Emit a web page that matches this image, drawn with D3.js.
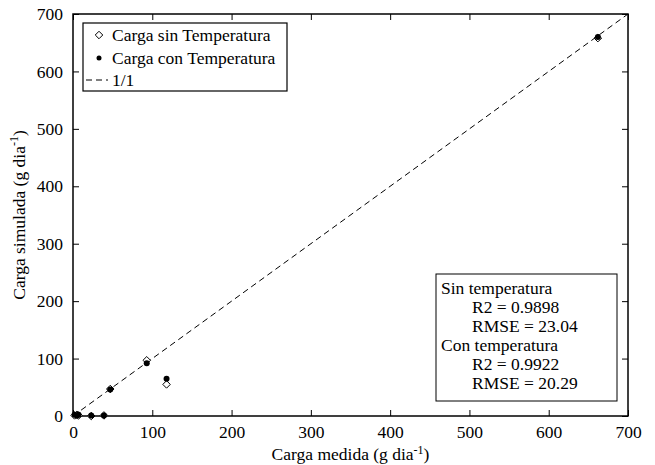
<!DOCTYPE html>
<html>
<head>
<meta charset="utf-8">
<script src="https://cdn.jsdelivr.net/npm/d3@7"></script>
<style>
  body { margin: 0; background: #fff; }
</style>
</head>
<body>
<div id="chart"></div>
<script>
// measured vs simulated load
const medidaSin = [2, 5, 7, 23, 39, 47, 93, 118, 662];
const simSin = [1, 2, 1, 0, 1, 47, 97, 55, 658];
const medidaCon = [2, 5, 7, 23, 39, 47, 93, 118, 662];
const simCon = [2, 1, 2, 1, 1, 46, 92, 65, 660];
const ticks = [0, 100, 200, 300, 400, 500, 600, 700];
const statsLines = [
  {t: "Sin temperatura", indent: false},
  {t: "R2 = 0.9898", indent: true},
  {t: "RMSE = 23.04", indent: true},
  {t: "Con temperatura", indent: false},
  {t: "R2 = 0.9922", indent: true},
  {t: "RMSE = 20.29", indent: true}
];

const width = 655, height = 465;
const margin = {left: 73, top: 14, right: 27, bottom: 49};
const fs = "17.5px";
const serif = '"Liberation Serif", "Times New Roman", Times, "Nimbus Roman", FreeSerif, "DejaVu Serif", "Noto Serif", serif';

const svg = d3.select("#chart").append("svg")
  .attr("width", width)
  .attr("height", height);

const x = d3.scaleLinear().domain([0, 700]).range([margin.left, width - margin.right]);
const y = d3.scaleLinear().domain([0, 700]).range([height - margin.bottom, margin.top]);

// 1/1 line
svg.append("line")
  .attr("x1", x(0)).attr("y1", y(0))
  .attr("x2", x(700)).attr("y2", y(700))
  .attr("stroke", "#000")
  .attr("stroke-width", 1)
  .attr("stroke-dasharray", "6,4");

// axes, ticks inside like matlab
const tl = 6;
const gx = svg.append("g").attr("transform", `translate(0,${y(0)})`)
  .call(d3.axisBottom(x).tickValues(ticks).tickSize(-tl).tickPadding(tl + 4));
const gxt = svg.append("g").attr("transform", `translate(0,${y(700)})`)
  .call(d3.axisTop(x).tickValues(ticks).tickSize(-tl).tickFormat(""));
const gy = svg.append("g").attr("transform", `translate(${x(0)},0)`)
  .call(d3.axisLeft(y).tickValues(ticks).tickSize(-tl).tickPadding(tl + 4));
const gyr = svg.append("g").attr("transform", `translate(${x(700)},0)`)
  .call(d3.axisRight(y).tickValues(ticks).tickSize(-tl).tickFormat(""));

[gx, gxt, gy, gyr].forEach(g => {
  g.select(".domain").remove();
  g.selectAll("line").attr("stroke", "#000");
});

svg.append("rect")
  .attr("x", x(0)).attr("y", y(700))
  .attr("width", x(700) - x(0)).attr("height", y(0) - y(700))
  .attr("fill", "none").attr("stroke", "#000").attr("stroke-width", 1.5);

// points
const diamond = d3.symbol().type(d3.symbolDiamond2).size(36);
svg.append("g").selectAll("path")
  .data(medidaSin.map((d, i) => [d, simSin[i]]))
  .join("path")
  .attr("d", diamond)
  .attr("transform", d => `translate(${x(d[0])},${y(d[1])})`)
  .attr("fill", "#fff").attr("stroke", "#000").attr("stroke-width", 1);

svg.append("g").selectAll("circle")
  .data(medidaCon.map((d, i) => [d, simCon[i]]))
  .join("circle")
  .attr("cx", d => x(d[0])).attr("cy", d => y(d[1]))
  .attr("r", 3).attr("fill", "#000");

// axis titles
const xl = svg.append("text")
  .attr("x", (x(0) + x(700)) / 2).attr("y", 460)
  .attr("text-anchor", "middle");
xl.append("tspan").text("Carga medida (g dia");
xl.append("tspan").attr("dy", -6).attr("class", "sup").text("-1");
xl.append("tspan").attr("dy", 6).text(")");

const yl = svg.append("text")
  .attr("transform", `translate(25,${(y(0) + y(700)) / 2}) rotate(-90)`)
  .attr("text-anchor", "middle");
yl.append("tspan").text("Carga simulada (g dia");
yl.append("tspan").attr("dy", -7).attr("class", "sup").text("-1");
yl.append("tspan").attr("dy", 7).text(")");

// legend
const lg = svg.append("g");
lg.append("rect")
  .attr("x", 83).attr("y", 23).attr("width", 204).attr("height", 68)
  .attr("fill", "#fff").attr("stroke", "#000").attr("stroke-width", 1.2);
lg.append("path")
  .attr("d", diamond)
  .attr("transform", "translate(99,35)")
  .attr("fill", "#fff").attr("stroke", "#000");
lg.append("circle").attr("cx", 99).attr("cy", 58).attr("r", 2.5).attr("fill", "#000");
lg.append("line")
  .attr("x1", 86).attr("x2", 108).attr("y1", 80).attr("y2", 80)
  .attr("stroke", "#000").attr("stroke-dasharray", "6,4");
["Carga sin Temperatura", "Carga con Temperatura", "1/1"].forEach((t, i) => {
  lg.append("text")
    .attr("x", 112).attr("y", 35 + i * 22.5)
    .attr("dy", "0.35em")
    .text(t);
});

// stats box
const sb = svg.append("g");
sb.append("rect")
  .attr("x", 436).attr("y", 274).attr("width", 181).attr("height", 127)
  .attr("fill", "#fff").attr("stroke", "#000").attr("stroke-width", 1);
statsLines.forEach((d, i) => {
  sb.append("text")
    .attr("x", d.indent ? 472 : 441)
    .attr("y", 288 + i * 19)
    .attr("dy", "0.35em")
    .text(d.t);
});

// font on every text, inline
svg.selectAll("text")
  .style("font-family", serif)
  .style("font-size", fs)
  .style("fill", "#000");
svg.selectAll("tspan.sup").style("font-size", "12px");
</script>
</body>
</html>
